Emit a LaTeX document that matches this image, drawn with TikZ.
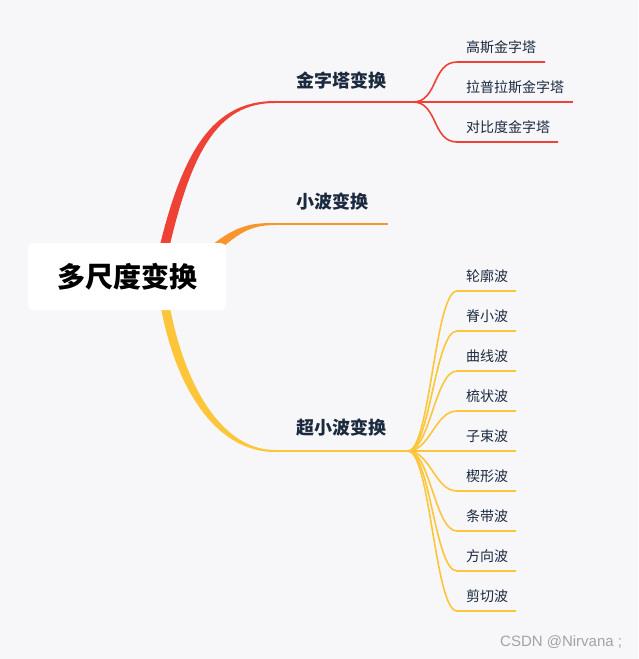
\documentclass[tikz,border=0pt]{standalone}
\usepackage{fontspec}
\setmainfont{Noto Sans CJK SC}
\newfontfamily\wmfont{Liberation Sans}
\usetikzlibrary{calc}
\definecolor{bg}{HTML}{F7F7F9}
\definecolor{cred}{HTML}{EE4236}
\definecolor{corange}{HTML}{F8952D}
\definecolor{cyellow}{HTML}{FDC53A}
\definecolor{txt}{HTML}{1B2A3E}
\definecolor{wm}{HTML}{A3A3A3}
\begin{document}
\begin{tikzpicture}[x=1pt,y=-1pt,
  branch/.style={line width=2pt},
  subline/.style={line width=1.6pt},
  maintxt/.style={anchor=west,inner sep=0pt,text=txt,font=\fontsize{18}{20}\selectfont\bfseries},
  subtxt/.style={anchor=west,inner sep=0pt,text=txt,font=\fontsize{14}{16}\selectfont},
  rootbox/.style={fill=white,rounded corners=5pt,minimum width=198pt,minimum height=67pt,inner sep=0pt,font=\fontsize{28}{30}\selectfont\bfseries,text=black}]
\fill[bg] (0,0) rectangle (638,659);
\useasboundingbox (0,0) rectangle (638,659);

% coordinates of branch lines
\coordinate (pyrS) at (275,102);
\coordinate (pyrF) at (413,102);
\coordinate (wavS) at (275,224);
\coordinate (wavE) at (388,224);
\coordinate (supS) at (275,451);
\coordinate (supF) at (408,451);

% tapered main connectors
\fill[cred] (156,262) .. controls (181,150) and (213,101) .. ($(pyrS)+(0,-1)$)
  -- ($(pyrS)+(0,1)$) .. controls (217,103) and (190,152) .. (166,262) -- cycle;
\fill[corange] (199,256) .. controls (234,224.5) and (250,223) .. ($(wavS)+(0,-1)$)
  -- ($(wavS)+(0,1)$) .. controls (252,225.5) and (239,230) .. (206,263) -- cycle;
\fill[cyellow] (158,290) .. controls (171,382) and (213,452) .. ($(supS)+(0,1)$)
  -- ($(supS)+(0,-1)$) .. controls (219,450) and (180,378) .. (167,290) -- cycle;

\node[rootbox] (root) at (127,276.5) {多尺度变换};

% main branches
\draw[branch,cred] (pyrS) -- (pyrF);
\draw[branch,corange] (wavS) -- (wavE);
\draw[branch,cyellow] (supS) -- (supF);
\node[maintxt] (pyr) at (296,81) {金字塔变换};
\node[maintxt] (wav) at (296,202) {小波变换};
\node[maintxt] (sup) at (296,428) {超小波变换};

% pyramid sub-branches
\foreach \n/\y/\e/\t in {g/62/545/高斯金字塔, l/102/573/拉普拉斯金字塔, c/142/558/对比度金字塔}{
  \coordinate (p\n S) at (457,\y);
  \coordinate (p\n E) at (\e,\y);
  \draw[subline,cred] (pyrF) .. controls +(25,0) and +(-25,0) .. (p\n S) -- (p\n E);
  \node[subtxt] (pt\n) at (466,\y-15) {\t};
}

% super-wavelet sub-branches
\foreach \n/\y/\t in {a/291/轮廓波, b/331/脊小波, c/371/曲线波, d/411/梳状波, e/451/子束波, f/491/楔形波, g/531/条带波, h/571/方向波, i/611/剪切波}{
  \coordinate (s\n S) at (457,\y);
  \coordinate (s\n E) at (516,\y);
  \draw[subline,cyellow] (supF) .. controls +(22,0) and +(-22,0) .. (s\n S) -- (s\n E);
  \node[subtxt] (st\n) at (466,\y-15) {\t};
}

\node[anchor=west,inner sep=0pt,text=wm,font=\wmfont\fontsize{15}{17}\selectfont] (wmark) at (500,642) {CSDN @Nirvana ;};
\end{tikzpicture}
\end{document}
